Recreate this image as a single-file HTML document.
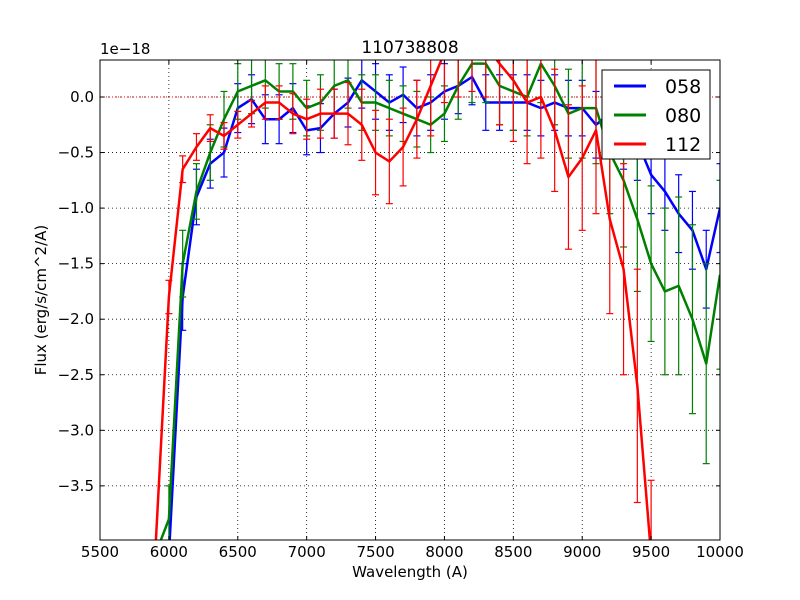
<!DOCTYPE html>
<html><head><meta charset="utf-8"><style>
html,body{margin:0;padding:0;background:#fff;overflow:hidden;width:800px;height:600px}
svg{display:block}
svg text{font-family:"DejaVu Sans","Liberation Sans",sans-serif}
</style></head><body>
<svg id="chart" width="800" height="600" xmlns="http://www.w3.org/2000/svg">
<rect width="800" height="600" fill="#fff"/>
<defs><clipPath id="clip"><rect x="100" y="60" width="620" height="480"/></clipPath></defs>
<g id="grid"></g>
<g id="series" clip-path="url(#clip)"></g>
<rect x="100" y="60" width="620" height="480" fill="none" stroke="#000" stroke-width="1"/>
<g id="ticks"></g>
<text x="410" y="53" font-size="17" text-anchor="middle">110738808</text>
<text x="410" y="577" font-size="15" text-anchor="middle">Wavelength (A)</text>
<text x="46" y="300" font-size="15" text-anchor="middle" transform="rotate(-90 46 300)">Flux (erg/s/cm^2/A)</text>
<text x="100" y="54" font-size="15">1e−18</text>
<g>
<rect x="602" y="70" width="108" height="89" fill="#fff" stroke="#000"/>
<line x1="614" y1="86" x2="646" y2="86" stroke="#0000ff" stroke-width="3"/>
<text x="665" y="93" font-size="19">058</text>
<line x1="614" y1="115" x2="646" y2="115" stroke="#008000" stroke-width="3"/>
<text x="665" y="122" font-size="19">080</text>
<line x1="614" y1="144" x2="646" y2="144" stroke="#ff0000" stroke-width="3"/>
<text x="665" y="151" font-size="19">112</text>
</g>
</svg>
<script>
const xTicks=[5500,6000,6500,7000,7500,8000,8500,9000,9500,10000];
const yTicks=[0,-0.5,-1,-1.5,-2,-2.5,-3,-3.5];
const yTickLabels=["0.0","−0.5","−1.0","−1.5","−2.0","−2.5","−3.0","−3.5"];
const wave=[5900,6000,6100,6200,6300,6400,6500,6600,6700,6800,6900,7000,7100,7200,7300,7400,7500,7600,7700,7800,7900,8000,8100,8200,8300,8400,8500,8600,8700,8800,8900,9000,9100,9200,9300,9400,9500,9600,9700,9800,9900,10000];
const flux058=[-6,-4.5,-1.8,-0.9,-0.6,-0.5,-0.1,-0.02,-0.2,-0.2,-0.1,-0.3,-0.28,-0.15,-0.05,0.15,0.05,-0.05,0.02,-0.1,-0.05,0.05,0.1,0.18,-0.05,-0.05,-0.05,-0.05,-0.1,-0.05,-0.1,-0.1,-0.25,-0.15,-0.3,-0.4,-0.7,-0.85,-1.05,-1.2,-1.55,-1.0];
const err058=[0.3,0.3,0.3,0.25,0.22,0.22,0.22,0.22,0.22,0.22,0.22,0.22,0.22,0.22,0.22,0.25,0.25,0.25,0.25,0.25,0.25,0.25,0.25,0.25,0.25,0.25,0.25,0.25,0.25,0.25,0.25,0.25,0.3,0.3,0.35,0.35,0.35,0.35,0.35,0.35,0.35,0.4];
const flux080=[-6,-3.8,-1.5,-0.85,-0.5,-0.2,0.05,0.1,0.15,0.05,0.05,-0.1,-0.05,0.1,0.15,-0.05,-0.05,-0.1,-0.15,-0.2,-0.25,-0.15,0.1,0.3,0.3,0.1,0.05,0.0,0.3,0.1,-0.15,-0.1,-0.1,-0.5,-0.75,-1.1,-1.5,-1.75,-1.7,-2.0,-2.4,-1.6];
const err080=[0.3,0.3,0.3,0.25,0.25,0.25,0.25,0.25,0.25,0.25,0.25,0.25,0.25,0.25,0.25,0.25,0.25,0.25,0.25,0.25,0.25,0.25,0.3,0.35,0.35,0.35,0.35,0.35,0.35,0.35,0.4,0.45,0.5,0.55,0.6,0.65,0.7,0.75,0.8,0.85,0.9,0.85];
const flux112=[-4.5,-1.8,-0.65,-0.45,-0.28,-0.35,-0.25,-0.15,-0.05,-0.05,-0.15,-0.2,-0.15,-0.15,-0.15,-0.25,-0.5,-0.58,-0.45,-0.2,0.1,0.4,0.5,0.6,0.55,0.3,0.15,-0.05,0.0,-0.3,-0.72,-0.55,-0.3,-1.1,-1.55,-2.6,-4.5,-6,-6,-6,-6,-6];
const err112=[0.2,0.15,0.12,0.12,0.12,0.12,0.12,0.12,0.15,0.15,0.18,0.18,0.22,0.22,0.28,0.32,0.38,0.38,0.35,0.35,0.45,0.45,0.5,0.55,0.55,0.55,0.55,0.55,0.55,0.55,0.65,0.65,0.75,0.85,0.95,1.05,1.05,1.0,1.0,1.0,1.0,1.0];
const NS="http://www.w3.org/2000/svg";
function xs(w){return 100+(w-5500)*620/4500;}
function ys(v){return 97-v*111.1;}
function yc(v){return Math.max(45,Math.min(555,ys(v)));}
function mk(tag,attrs,parent){const e=document.createElementNS(NS,tag);for(const k in attrs)e.setAttribute(k,attrs[k]);parent.appendChild(e);return e;}
const grid=document.getElementById('grid'),ticks=document.getElementById('ticks'),ser=document.getElementById('series');
xTicks.forEach(t=>{const x=xs(t);
 const g=mk('line',{x1:x,x2:x,y1:60,y2:540,stroke:'#000','stroke-dasharray':'1,3','stroke-width':0.8},grid);
 
 
 mk('line',{x1:x,x2:x,y1:540,y2:536,stroke:'#000'},ticks);mk('line',{x1:x,x2:x,y1:60,y2:64,stroke:'#000'},ticks);
 const tx=mk('text',{x:x,y:557,'font-size':15,'text-anchor':'middle'},ticks);tx.textContent=t;
 
 });
yTicks.forEach((t,i)=>{const y=ys(t);
 const g=mk('line',{x1:100,x2:720,y1:y,y2:y,stroke:'#000','stroke-dasharray':'1,3','stroke-width':0.8},grid);
 
 
 mk('line',{x1:100,x2:104,y1:y,y2:y,stroke:'#000'},ticks);mk('line',{x1:716,x2:720,y1:y,y2:y,stroke:'#000'},ticks);
 const tx=mk('text',{x:94,y:y+5,'font-size':15,'text-anchor':'end'},ticks);tx.textContent=yTickLabels[i];
 
 });
const zl=mk('line',{x1:100,x2:720,y1:ys(0),y2:ys(0),stroke:'#ff0000','stroke-dasharray':'1,2','stroke-width':1},ser);


function draw(flux,err,color,name){
 const g=mk('g',{},ser);
 
 
 wave.forEach((w,i)=>{const x=xs(w),y1=yc(flux[i]+err[i]),y2=yc(flux[i]-err[i]);
  mk('line',{x1:x,x2:x,y1:y1,y2:y2,stroke:color,'stroke-width':1.2},g);
  mk('line',{x1:x-3.5,x2:x+3.5,y1:y1,y2:y1,stroke:color,'stroke-width':1.2},g);
  mk('line',{x1:x-3.5,x2:x+3.5,y1:y2,y2:y2,stroke:color,'stroke-width':1.2},g);});
 const pts=wave.map((w,i)=>xs(w)+','+yc(flux[i])).join(' ');
 const p=mk('polyline',{points:pts,fill:'none',stroke:color,'stroke-width':2.5,'stroke-linejoin':'round'},g);
 
 }
draw(flux058,err058,'#0000ff','058');
draw(flux080,err080,'#008000','080');
draw(flux112,err112,'#ff0000','112');
</script>
</body></html>
